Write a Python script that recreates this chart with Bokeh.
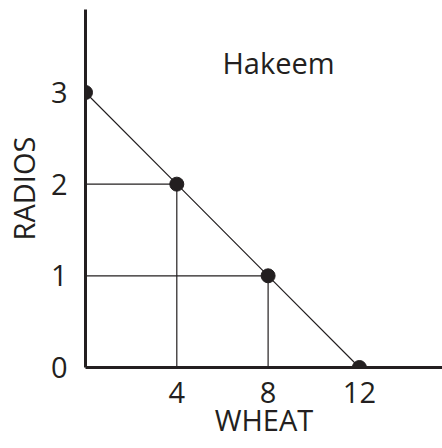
from bokeh.plotting import figure
from bokeh.models import FixedTicker, Range1d
from bokeh.core.properties import value
from bokeh.embed import file_html
from bokeh.resources import INLINE

# Production possibilities for Hakeem
wheat = [0, 4, 8, 12]
radios = [3, 2, 1, 0]
x_ticks = [4, 8, 12]
y_ticks = [0, 1, 2, 3]
name = "Hakeem"
x_title = "WHEAT"
y_title = "RADIOS"

FONT = "Open Sans"
INK = "#231f20"
FS = "29px"

p = figure(width=442, height=448, output_backend="svg", toolbar_location=None,
           x_range=Range1d(0, 15.64), y_range=Range1d(0, 3.905),
           min_border_left=85, min_border_right=0, min_border_top=9, min_border_bottom=81)
p.outline_line_color = None
p.grid.grid_line_color = None
p.background_fill_color = "white"

for ax in (p.xaxis[0], p.yaxis[0]):
    ax.axis_line_width = 3
    ax.axis_line_color = INK
    ax.major_tick_line_color = None
    ax.minor_tick_line_color = None
    ax.major_label_text_font = FONT
    ax.major_label_text_font_size = FS
    ax.major_label_text_color = INK
    ax.axis_label_text_font = FONT
    ax.axis_label_text_font_size = FS
    ax.axis_label_text_font_style = "normal"
    ax.axis_label_text_color = INK

p.xaxis.ticker = FixedTicker(ticks=x_ticks)
p.yaxis.ticker = FixedTicker(ticks=y_ticks)
p.xaxis.major_label_standoff = 8
p.yaxis.major_label_standoff = 12
p.xaxis.axis_label = x_title
p.yaxis.axis_label = y_title
p.xaxis.axis_label_standoff = -6
p.yaxis.axis_label_standoff = 5

# guide lines from the interior points to each axis
for wx, ry in zip(wheat[1:-1], radios[1:-1]):
    p.line([0, wx], [ry, ry], line_color=INK, line_width=1.2)
    p.line([wx, wx], [0, ry], line_color=INK, line_width=1.2)

# frontier
p.line(wheat, radios, line_color=INK, line_width=1.2)
p.scatter(wheat, radios, size=14, fill_color=INK, line_color=INK)

p.text(x=[6.0], y=[3.327], text=[name], text_font=value(FONT), text_font_size=FS,
       text_color=INK, text_align="left", text_baseline="alphabetic")

open("out.html", "w").write(file_html(p, INLINE))
